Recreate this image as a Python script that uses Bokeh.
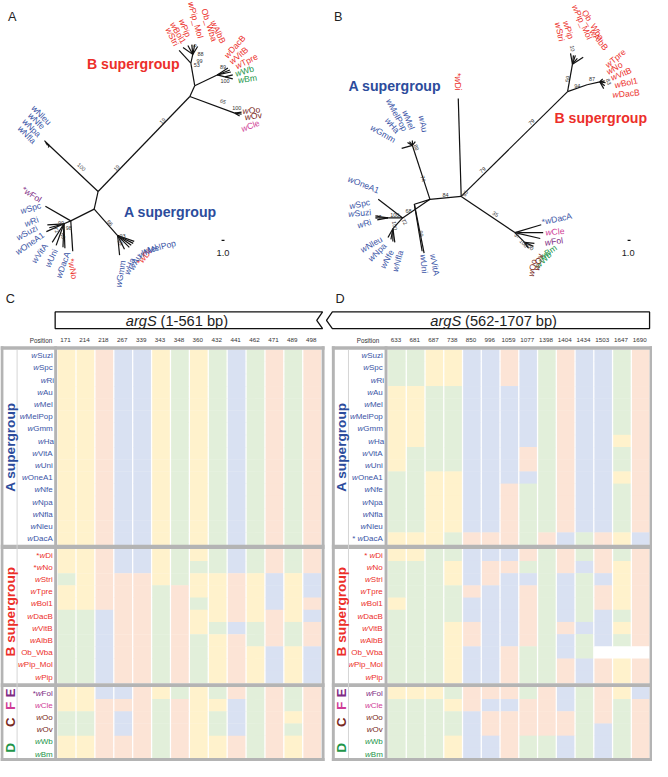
import numpy as np
from bokeh.plotting import figure
from bokeh.models import Range1d, ColumnDataSource
from bokeh.embed import file_html
from bokeh.resources import INLINE
from bokeh.core.properties import value

# ============================ DATA ============================
a_names = ["wSuzi", "wSpc", "wRi", "wAu", "wMel", "wMelPop", "wGmm", "wHa",
           "wVitA", "wUni", "wOneA1", "wNfe", "wNpa", "wNfla", "wNleu", "wDacA"]
b_names = ["wDi", "wNo", "wStri", "wTpre", "wBol1", "wDacB", "wVitB", "wAlbB",
           "Ob_Wba", "wPip_Mol", "wPip"]
o_names = ["wFol", "wCle", "wOo", "wOv", "wWb", "wBm"]

c_labels_a = a_names
c_labels_b = ["*wDi", "*wNo", "wStri", "wTpre", "wBol1", "wDacB", "wVitB", "wAlbB",
              "Ob_Wba", "wPip_Mol", "wPip"]
c_labels_o = ["*wFol", "wCle", "wOo", "wOv", "wWb", "wBm"]
d_labels_a = ["wSuzi", "wSpc", "wRi", "wAu", "wMel", "wMelPop", "wGmm", "wHa",
              "wVitA", "wUni", "wOneA1", "wNfe", "wNpa", "wNfla", "wNleu", "* wDacA"]
d_labels_b = ["* wDi", "wNo", "wStri", "wTpre", "wBol1", "wDacB", "wVitB", "wAlbB",
              "Ob_Wba", "wPip_Mol", "wPip"]
d_labels_o = o_names

c_positions = ["171", "214", "218", "267", "339", "343", "348", "360", "432", "441",
               "462", "471", "489", "498"]
d_positions = ["633", "681", "687", "738", "850", "996", "1059", "1077", "1398", "1404",
               "1434", "1503", "1647", "1690"]

# nucleotide state per cell: Y / O / B / G, W = missing
c_states_a = ["YYOBBYGYGBGOGO", "YYOBBYGYGBGOGO", "YYOBBYGYGBGOGO", "YYOBBYGYGBGOGO",
              "YYOBBYGYGBGOGO", "YYOBBYGYGBGOGO", "YYOBBYGYGBGOGO", "YYOBBYGYGBGOGO",
              "YYOBBYGYGBGOGO", "YYOBBYGYGBGOGO", "YYOBBYGYGBGOGO", "YYOBBYGYGBGOGO",
              "YYOBBYGYGBGOGO", "YYOBBYGYGBGOGO", "YYOBBYGYGBGOGO", "YYOBBYGYGBGOGO"]
c_states_b = ["YYOBBYGYGBGOGO", "YYOBBYGGGBGOGO", "GYOOOYGYYOYBYB", "YYOOOGOYYOYBYB",
              "YYOOOGOGYOYBYO", "GGBOOGOYYOYOYB", "GGBOOGOYGBGOGO", "GGBOOGOGYOGOGO",
              "GGBOOGOGYOYBYB", "GGBOOGOGYOYBYB", "GGBOOGOGYOYBYB"]
c_states_o = ["YYBBOYGYGOGOGO", "YYOOOGOYYBGOGO", "GGOBOGOYGBGOYO", "GGOBOGOYGBGOGO",
              "YYOOOGOYYOGOYO", "YYOOOGOYYOGOYO"]

d_states_a = ["GGYYBBOBGOBBGO", "GGYYBBOBGOBBGO", "GGYYBBOBGOBBGO", "YYGGBBBBGOBBGO",
              "YYGGBBBBGOBBGO", "YYGGBBBBGOBBGO", "YYGGBBBBGOBBGO", "YYGGBBBBGOBBYO",
              "YGGGBBBOGOBBGO", "YGGGBBBOGOBBGO", "GGYYBBBBGOBBYO", "GGYYBBOGGOBBGO",
              "GGYYBBOGGOBBGO", "GGYYBBOGGOBBGO", "GGYYBBOGGOBBGO", "YYYGOOOGOBGOYB"]
d_states_b = ["YYGGBBBOGOGOGO", "GGGYBOOGGOBOYO", "GGGYBOBBGBGBYO", "GGGGOBBOGBGOYO",
              "YGGGBBBOGBGOYO", "GGGGBBBOGBGBGO", "GGGYOBBOGOBBYO", "GGGYOBBOGBGBGO",
              "GGGYBBOGGBGWWW", "GGGYBBOGGOBOYO", "GGGYBBOGGOBOYO"]
d_states_o = ["YYYGOOOGOBGOYB", "GGGYOBBOOBGOGO", "GGGGBOOOOOGOGO", "GGGGBOOOOOGBGO",
              "GGGYBBOGGBGBGO", "GGGYBBOGGBGBGO"]

# ---- tree A (unrooted, ML) : node, parent, layout position ----
ta_node = ["a0", "a1", "a2", "a3", "a3b", "a4", "a4b", "a5", "a6", "a7", "a8", "a8b", "a9",
           "wStri", "wBol1", "wPip", "wPip_Mol", "Ob_Wba", "wAlbB",
           "wDacB", "wVitB", "wTpre", "wWb", "wBm",
           "wOo", "wOv", "wCle",
           "wNleu", "wNfe", "wNpa", "wNfla",
           "wFol", "wSpc", "wRi", "wSuzi", "wOneA1", "wVitA", "wUni", "wDacA", "wNo",
           "wMelPop", "wMel", "wDi", "wAu", "wHa", "wGmm"]
ta_parent = [None, "a0", "a1", "a2", "a3", "a2", "a4", "a1", "a0", "a0", "a7", "a8", "a7",
             "a3", "a3b", "a3b", "a3b", "a3b", "a3b",
             "a4", "a4", "a4", "a4b", "a4b",
             "a5", "a5", "a5",
             "a6", "a6", "a6", "a6",
             "a8", "a8b", "a8b", "a8b", "a8b", "a8b", "a8b", "a8b", "a8",
             "a9", "a9", "a9", "a9", "a9", "a9"]
ta_x = [100, 194, 199, 195, 197, 222, 230, 240, 50, 96, 72, 65, 120,
        183, 187, 192, 196, 199, 202,
        233, 235, 236, 238, 238,
        247, 247, 245,
        45, 46, 47, 49,
        46, 48, 50, 47, 53, 57, 64, 66, 74,
        137, 136, 134, 132, 127, 122]
ta_y = [195, 98, 87, 64, 55, 76, 78, 115, 148, 213, 225, 228, 240,
        51, 48, 46, 45, 45, 47,
        69, 71, 73, 76, 80,
        114, 116, 118,
        143, 145, 147, 150,
        210, 229, 232, 236, 247, 250, 252, 253, 256,
        246, 248, 250, 252, 254, 260]
ta_lab = ["wStri", "wBol1", "wPip", "wPip_Mol", "Ob_Wba", "wAlbB",
          "wDacB", "wVitB", "wTpre", "wWb", "wBm", "wOo", "wOv", "wCle",
          "wNleu", "wNfe", "wNpa", "wNfla", "*wFol", "wSpc", "wRi", "wSuzi", "wOneA1",
          "wVitA", "wUni", "wDacA", "*wNo", "wGmm", "wHa", "wAu", "*wDi", "wMel", "wMelPop"]
ta_lab_grp = ["B", "B", "B", "B", "B", "B", "B", "B", "B", "D", "D", "C", "C", "F",
              "A", "A", "A", "A", "E", "A", "A", "A", "A",
              "A", "A", "A", "B", "A", "A", "A", "B", "A", "A"]
ta_lab_x = [176, 182, 189, 200, 214, 223, 240, 244, 252, 250, 253, 257, 259, 256,
            42, 37, 32, 27, 32, 31, 31, 27, 30, 40, 52, 64, 74, 123, 132, 138, 147, 151, 162]
ta_lab_y = [37, 33, 28, 20, 25, 32, 47, 56, 62, 72, 80, 112, 118, 128,
            117, 123, 130, 137, 198, 212, 226, 237, 248, 258, 263, 270, 274,
            279, 272, 267, 262, 256, 252]
ta_lab_ang = [-63, -60, -68, -75, -72, -65, 48, 40, 27, 18, 8, 5, 8, 20,
              -45, -45, -45, -45, -33, 17, 20, 28, 35, 55, 65, 70, -80,
              80, 70, 60, 50, 25, 15]
ta_boot = ["100", "19", "19", "65", "100", "88", "99", "53", "9", "89", "100", "86", "93",
           "99", "99", "72", "98", "55"]
ta_boot_x = [83, 166, 119, 228, 242, 205, 204, 201, 199, 228, 230, 112, 125, 123, 62, 57, 70, 64]
ta_boot_y = [170, 123, 171, 103, 110, 55, 62, 66, 46, 68, 82, 227, 240, 247, 227, 234, 232, 240]
ta_boot_ang = [-43, 46, 46, -20, 0, 0, 0, 0, -80, 0, 0, -48, 0, -60, 0, -60, 0, -70]

# ---- tree B (unrooted, ML) ----
tb_node = ["b0", "b1", "b2", "b3", "b3a", "b3b", "b4", "b5", "b6", "b7", "b8", "b9", "b10",
           "wDi", "wUni", "wVitA", "wOneA1", "wSpc", "wSuzi", "wRi",
           "wNleu", "wNpa", "wNfe", "wNfla",
           "wGmm", "wHa", "wMelPop", "wMel", "wAu",
           "wStri", "wPip", "wPip_Mol", "Ob_Wba", "wAlbB",
           "wTpre", "wNo", "wVitB", "wBol1", "wDacB",
           "wDacA", "wCle", "wFol", "wBm", "wWb", "wOo", "wOv"]
tb_parent = [None, "b0", "b1", "b1", "b3", "b3", "b1", "b0", "b5", "b5", "b7", "b0", "b9",
             "b0", "b2", "b2", "b3", "b3a", "b3a", "b3a",
             "b3b", "b3b", "b3b", "b3b",
             "b4", "b4", "b4", "b4", "b4",
             "b6", "b6", "b6", "b6", "b6",
             "b8", "b8", "b8", "b8", "b8",
             "b9", "b9", "b9", "b10", "b10", "b10", "b10"]
tb_x = [472, 440, 424, 412, 397, 402, 422, 581, 586, 601, 614, 527, 537,
        469, 432, 434, 387, 384, 384, 386,
        397, 400, 402, 404,
        411, 417, 419, 422, 425,
        584, 587, 589, 591, 597,
        617, 619, 620, 619, 618,
        554, 556, 553, 547, 546, 541, 540]
tb_y = [200, 203, 208, 222, 222, 233, 148, 93, 65, 86, 83, 237, 247,
        100, 256, 258, 203, 220, 222, 224,
        242, 244, 246, 247,
        151, 145, 144, 143, 144,
        54, 56, 56, 59, 58,
        80, 82, 84, 87, 90,
        229, 237, 243, 248, 251, 253, 252]
tb_lab = ["*wDi", "wGmm", "wHa", "wMelPop", "wMel", "wAu",
          "wOneA1", "wSpc", "wSuzi", "wRi", "wNleu", "wNpa", "wNfe", "wNfla", "wUni", "wVitA",
          "*wDacA", "wCle", "wFol", "wBm", "wWb", "wOv", "wOo",
          "wStri", "wPip", "wPip_Mol", "Ob_Wba", "wAlbB",
          "wTpre", "wNo", "wVitB", "wBol1", "wDacB"]
tb_lab_grp = ["B", "A", "A", "A", "A", "A",
              "A", "A", "A", "A", "A", "A", "A", "A", "A", "A",
              "A", "F", "E", "D", "D", "C", "C",
              "B", "B", "B", "B", "B",
              "B", "B", "B", "B", "B"]
tb_lab_x = [469, 392, 401, 406, 418, 433,
            372, 368, 368, 372, 380, 386, 396, 407, 434, 445,
            570, 568, 567, 561, 556, 551, 545,
            573, 582, 596, 607, 613,
            630, 629, 636, 641, 641]
tb_lab_y = [83, 136, 127, 117, 122, 126,
            188, 208, 217, 228, 249, 257, 264, 266, 269, 270,
            223, 236, 246, 257, 265, 267, 273,
            32, 30, 22, 25, 40,
            59, 69, 75, 84, 95]
tb_lab_ang = [-90, -30, -50, -62, -68, -78,
              -22, 12, 5, 15, 30, 45, 62, 75, -85, -80,
              12, 5, 8, 35, 45, 75, 80,
              -78, -72, -65, -58, -52,
              40, 30, 22, 12, 5]
tb_boot = ["84", "65", "68", "74", "99", "88", "77", "100", "72", "100",
           "35", "55", "100", "100", "79", "79", "59", "94", "87", "83", "10"]
tb_boot_x = [456, 476, 418, 433, 431, 426, 387, 404, 414, 404,
             507, 529, 536, 542, 544, 494, 581, 591, 606, 623, 586]
tb_boot_y = [199, 197, 215, 182, 238, 150, 221, 219, 226, 230,
             218, 239, 248, 251, 124, 173, 80, 87, 80, 83, 49]
tb_boot_ang = [0, 60, 0, -72, -80, -70, 0, 0, -60, -80,
               -28, 70, -45, -45, 40, 40, 80, 0, 0, -70, -80]

# ============================ STYLE ============================
COL = {"Y": "#FFF2CC", "O": "#FCE4D6", "B": "#D9E1F2", "G": "#E2EFDA", "W": "#FFFFFF"}
GRP_COL = {"A": "#3b55a6", "B": "#ec2f2a", "C": "#7a2a22", "D": "#22964a",
           "E": "#7e2b84", "F": "#cf3c96"}
HEAD_BLUE = "#2c4c9c"
FRAME = "#b4b4b4"
FONT = value("Liberation Sans")
SCALE = 652.0 / 668.0
H = 777.0

# Arial / Liberation Sans advance widths (1/1000 em)
ADV = {" ": 278, "*": 389, "_": 556, "1": 556, "A": 667, "B": 667, "C": 722, "D": 722,
       "F": 611, "G": 778, "M": 833, "N": 722, "O": 778, "P": 667, "S": 667, "T": 611,
       "U": 722, "V": 667, "W": 944, "a": 556, "b": 556, "c": 500, "d": 556, "e": 556,
       "f": 278, "i": 222, "l": 222, "m": 833, "n": 556, "o": 556, "p": 556, "r": 333,
       "s": 500, "t": 278, "u": 556, "v": 500, "w": 722, "z": 500}


def tw(s, size):
    return sum(ADV.get(ch, 556) for ch in s) / 1000.0 * size


def fs(px):
    return "%.2fpx" % (px * SCALE)


def Y(v):
    return H - np.asarray(v, dtype=float)


p = figure(width=652, height=761, x_range=Range1d(0, 668), y_range=Range1d(0, 777),
           output_backend="svg", toolbar_location=None, min_border=0,
           x_axis_type=None, y_axis_type=None)
p.grid.visible = False
p.outline_line_color = None
p.background_fill_color = "white"
p.border_fill_color = "white"


def texts(xs, ys, ss, size, colors, angles=None, align="center", baseline="middle",
          style="normal", ydata=False):
    n = len(ss)
    if n == 0:
        return
    if angles is None:
        angles = [0] * n
    if isinstance(colors, str):
        colors = [colors] * n
    yy = list(ys) if ydata else list(Y(ys))
    src = ColumnDataSource(dict(x=list(xs), y=yy, t=list(ss), c=list(colors),
                                a=list(angles)))
    p.text(x="x", y="y", text="t", angle="a", angle_units="deg", text_color="c",
           source=src, text_font=FONT, text_font_size=fs(size), text_align=align,
           text_baseline=baseline, text_font_style=style)


def strain_labels(xs, ys, labels, size, colors, angles, align):
    """Strain names with an italic leading 'w' (Wolbachia strain convention)."""
    parts = {"pre": ([], [], [], [], []), "w": ([], [], [], [], []),
             "rest": ([], [], [], [], [])}
    for x, y, lab, c, a in zip(xs, ys, labels, colors, angles):
        k = lab.find("w")
        if k < 0 or k > 2:
            segs = [("rest", lab)]
        else:
            segs = [("pre", lab[:k]), ("w", "w"), ("rest", lab[k + 1:])]
        total = tw(lab, size)
        ang = np.deg2rad(a)
        dx, dy = np.cos(ang), np.sin(ang)
        xd, yd = x, H - y
        if align == "center":
            off = -total / 2.0
        elif align == "right":
            off = -total
        else:
            off = 0.0
        for key, s in segs:
            if s:
                L = parts[key]
                L[0].append(xd + off * dx); L[1].append(yd + off * dy)
                L[2].append(s); L[3].append(c); L[4].append(a)
            off += tw(s, size)
    for key, style in (("pre", "normal"), ("w", "italic"), ("rest", "normal")):
        L = parts[key]
        texts(L[0], L[1], L[2], size, L[3], L[4], align="left", style=style, ydata=True)


# ============================ TREES ============================
def draw_tree(nodes, parents, xs, ys, lab, grp, lx, ly, la, bt, bx, by, ba):
    idx = {n: i for i, n in enumerate(nodes)}
    x0, y0, x1, y1 = [], [], [], []
    for i, par in enumerate(parents):
        if par is None:
            continue
        j = idx[par]
        x0.append(xs[j]); y0.append(ys[j]); x1.append(xs[i]); y1.append(ys[i])
    p.segment(x0=x0, y0=list(Y(y0)), x1=x1, y1=list(Y(y1)), line_color="#111111",
              line_width=1.2)
    strain_labels(lx, ly, lab, 8.8, [GRP_COL[g] for g in grp], la, "center")
    texts(bx, by, bt, 5.6, "#333333", ba)


draw_tree(ta_node, ta_parent, ta_x, ta_y, ta_lab, ta_lab_grp, ta_lab_x, ta_lab_y,
          ta_lab_ang, ta_boot, ta_boot_x, ta_boot_y, ta_boot_ang)
draw_tree(tb_node, tb_parent, tb_x, tb_y, tb_lab, tb_lab_grp, tb_lab_x, tb_lab_y,
          tb_lab_ang, tb_boot, tb_boot_x, tb_boot_y, tb_boot_ang)

# supergroup titles in trees
texts([136, 174, 404, 615], [65, 216, 87, 120],
      ["B supergroup", "A supergroup", "A supergroup", "B supergroup"], 14.5,
      [GRP_COL["B"], HEAD_BLUE, HEAD_BLUE, GRP_COL["B"]], style="bold")
# scale bars
p.segment(x0=[226.5, 642.5], y0=list(Y([245, 245])), x1=[229.5, 645.5], y1=list(Y([245, 245])),
          line_color="#111111", line_width=1.2)
texts([228, 643], [258, 258], ["1.0", "1.0"], 9.5, "#222222")
# panel letters
texts([12, 346, 10, 348], [17, 17, 305, 305], ["A", "B", "C", "D"], 13, "#222222")

# ============================ GENE ARROWS ============================
p.patch(x=[56, 330, 324, 330, 56], y=list(Y([318, 318, 326.5, 335, 335])),
        fill_color="white", line_color="#111111", line_width=1.3)
p.patch(x=[340, 665, 665, 340, 334], y=list(Y([318, 318, 335, 335, 326.5])),
        fill_color="white", line_color="#111111", line_width=1.3)
texts([160, 472], [327, 327], ["argS", "argS"], 15, "#222222", align="right",
      style="italic")
texts([164, 476], [327, 327], ["(1-561 bp)", "(562-1707 bp)"], 15, "#222222",
      align="left")

# ============================ HEAT PANELS ============================
ROW_H = 12.45
BLOCK_TOP = [356.5, 560.0, 701.0]


def heat_panel(xl, xgl, xns, xc0, xc1, xr, name_x, name_size, pos_labels, pos_x,
               states, labels, grp_x):
    ncol = len(pos_labels)
    cw = (xc1 - xc0) / ncol
    cx, cy, cc = [], [], []
    name_xs, name_ys, name_t, name_c = [], [], [], []
    blk_grp = [["A"] * len(states[0]), ["B"] * len(states[1]),
               ["E", "F", "C", "C", "D", "D"]]
    for b in range(3):
        for r, row in enumerate(states[b]):
            yc = BLOCK_TOP[b] + (r + 0.5) * ROW_H
            for k, s in enumerate(row):
                cx.append(xc0 + (k + 0.5) * cw)
                cy.append(yc)
                cc.append(COL[s])
            name_xs.append(name_x); name_ys.append(yc); name_t.append(labels[b][r])
            name_c.append(GRP_COL[blk_grp[b][r]])
    p.rect(x=cx, y=list(Y(cy)), width=cw - 1.3, height=ROW_H + 0.4, fill_color=cc,
           line_color=None)
    strain_labels(name_xs, name_ys, name_t, name_size, name_c, [0] * len(name_t), "right")
    # column header
    texts([xc0 + (k + 0.5) * cw - 1 for k in range(ncol)], [347] * ncol, pos_labels,
          6.4, "#333333")
    texts([pos_x], [347], ["Position"], 6.5, "#333333", align="right")
    # frame
    top, bot = 353.0, 777.0
    lefts = [xl, xr - 3, xns, xl, xl, xl, xl]
    rights = [xl + 3, xr, xns + 3, xr, xr, xr, xr]
    tops = [top, top, top, top, 773.5, 555.8, 697.0]
    bots = [bot, bot, bot, 356.5, bot, 560.0, 701.0]
    p.quad(left=lefts, right=rights, top=list(Y(tops)), bottom=list(Y(bots)),
           fill_color=FRAME, line_color=None)
    p.quad(left=[xgl - 0.5], right=[xgl + 0.5], top=list(Y([356.5])), bottom=list(Y([773.5])),
           fill_color="#d4d4d4", line_color=None)
    # group labels (vertical)
    texts([grp_x, grp_x], [456, 624], ["A supergroup", "B supergroup"], 14,
          [HEAD_BLUE, GRP_COL["B"]], [90, 90], style="bold")
    texts([grp_x] * 4, [707, 720, 737, 763], ["E", "F", "C", "D"], 13.5,
          [GRP_COL["E"], GRP_COL["F"], GRP_COL["C"], GRP_COL["D"]], [90] * 4,
          style="bold")


heat_panel(0.0, 17.0, 55.0, 58.0, 329.0, 332.0, 53.5, 8.2, c_positions, 53,
           [c_states_a, c_states_b, c_states_o], [c_labels_a, c_labels_b, c_labels_o], 10)
heat_panel(339.5, 356.5, 393.5, 396.5, 665.5, 668.0, 391.7, 8.2, d_positions, 388,
           [d_states_a, d_states_b, d_states_o], [d_labels_a, d_labels_b, d_labels_o], 349)

open("out.html", "w").write(file_html(p, INLINE))
